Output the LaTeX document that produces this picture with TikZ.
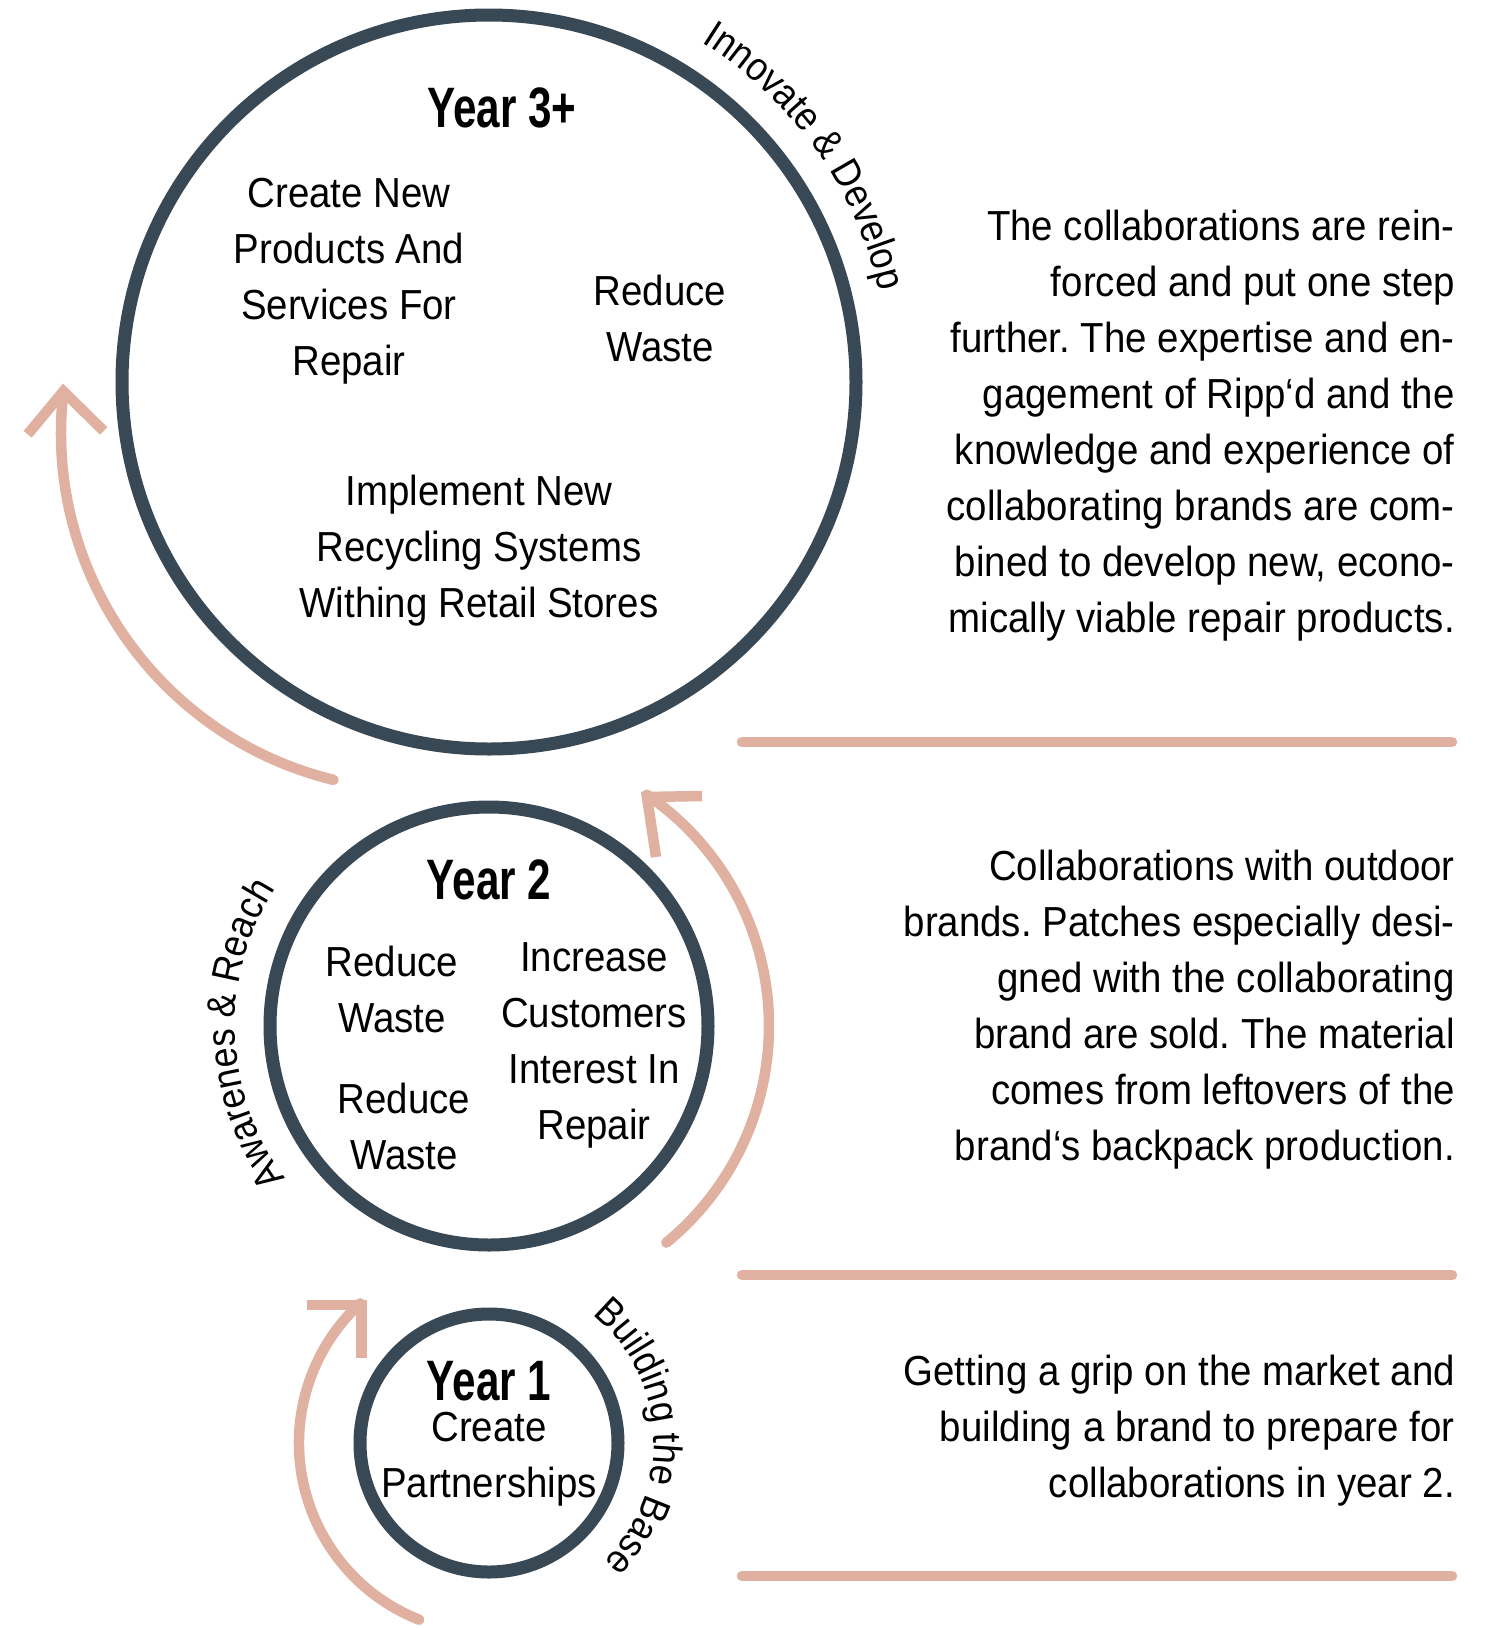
\documentclass[tikz,border=0pt]{standalone}
\usepackage{fontspec}
\setmainfont{Liberation Sans}
\newfontfamily\bodyfam[FakeStretch=0.915]{Liberation Sans}
\newfontfamily\yearfam[FakeStretch=0.74]{Liberation Sans}
\newfontfamily\labfam[FakeStretch=0.9]{Liberation Sans}
\newcommand\labfont{\labfam\fontsize{40}{44}\selectfont}
\usetikzlibrary{calc}
\definecolor{ringcol}{HTML}{384855}
\definecolor{pinkcol}{HTML}{E0B0A0}
% #1 centre coordinate, #2 radius, #3 centre angle, #4 name, #5 list char/advance (1/1000 em)
\newcommand\arclabel[5]{%
  \gdef\arcSum{0}%
  \foreach \ch/\cw in {#5}{\pgfmathsetmacro\arcTmp{\arcSum+\cw}\xdef\arcSum{\arcTmp}}%
  \pgfmathsetmacro\arcStart{#3 - 0.5*(\arcSum*0.036/#2)*57.29578}%
  \xdef\arcStartG{\arcStart}%
  \gdef\arcPos{0}%
  \foreach \ch/\cw [count=\ci] in {#5}{%
    \pgfmathsetmacro\arcAng{\arcStartG + ((\arcPos + 0.5*\cw)*0.036/#2)*57.29578}%
    \pgfmathsetmacro\arcRot{-\arcAng-90}%
    \node[inner sep=0pt, anchor=base, rotate=\arcRot, font=\labfont] (#4-\ci) at ($(#1)+(\arcAng:#2)$) {\ch};
    \pgfmathsetmacro\arcTmp{\arcPos+\cw}\xdef\arcPos{\arcTmp}%
  }%
}
\begin{document}
\frenchspacing
\begin{tikzpicture}[x=1pt,y=-1pt,
  ring/.style={circle, draw=ringcol, line width=13pt, inner sep=0pt, minimum size=#1},
  bodytext/.style={font=\bodyfam\fontsize{42}{56}\selectfont, inner sep=0pt, align=center},
  desctext/.style={font=\bodyfam\fontsize{42}{56}\selectfont, inner sep=0pt, align=right, anchor=east},
  yeartext/.style={font=\yearfam\bfseries\fontsize{57}{60}\selectfont, inner sep=0pt},
  pinkarc/.style={draw=pinkcol, line width=10.5pt, line cap=round},
  pinkhead/.style={draw=pinkcol, line width=10.5pt, line cap=butt, line join=miter},
  divider/.style={draw=pinkcol, line width=10.5pt, line cap=round}
]
\useasboundingbox (0,0) rectangle (1487,1628);
\fill[white] (0,0) rectangle (1487,1628);

% rings
\node[ring=734pt] (y3) at (489,382) {};
\node[ring=438pt] (y2) at (489,1026) {};
\node[ring=258pt] (y1) at (489,1443) {};

% titles
\node[yeartext] (t3) at (502,108) {Year 3+};
\node[yeartext] (t2) at (489,880) {Year 2};
\node[yeartext] (t1) at (489,1381) {Year 1};

% circle contents
\node[bodytext] (c3a) at (349,281) {Create New\\Products And\\Services For\\Repair};
\node[bodytext] (c3b) at (660,318) {Reduce\\Waste};
\node[bodytext] (c3c) at (479,551) {Implement New\\Recycling Systems\\Withing Retail Stores};
\node[bodytext] (c2a) at (392,989) {Reduce\\Waste};
\node[bodytext] (c2b) at (404,1126) {Reduce\\Waste};
\node[bodytext] (c2c) at (594,1045) {Increase\\Customers\\Interest In\\Repair};
\node[bodytext] (c1) at (489,1459) {Create\\Partnerships};

% descriptions
\node[desctext] (d3) at (1455,426) {The collaborations are rein-\\forced and put one step\\further. The expertise and en-\\gagement of Ripp‘d and the\\knowledge and experience of\\collaborating brands are com-\\bined to develop new, econo-\\mically viable repair products.};
\node[desctext] (d2) at (1455,1010) {Collaborations with outdoor\\brands. Patches especially desi-\\gned with the collaborating\\brand are sold. The material\\comes from leftovers of the\\brand‘s backpack production.};
\node[desctext] (d1) at (1455,1431) {Getting a grip on the market and\\building a brand to prepare for\\collaborations in year 2.};

% dividers
\coordinate (l1a) at (742,742);  \coordinate (l1b) at (1452,742);
\coordinate (l2a) at (742,1275); \coordinate (l2b) at (1452,1275);
\coordinate (l3a) at (742,1576); \coordinate (l3b) at (1452,1576);
\draw[divider] (l1a) -- (l1b);
\draw[divider] (l2a) -- (l2b);
\draw[divider] (l3a) -- (l3b);

% pink arrows
\coordinate (a1c) at (418,433);
\coordinate (a1s) at ($(a1c)+(103.7:357)$);
\draw[pinkarc] (a1s) arc[start angle=103.7, end angle=186.7, radius=357];
\coordinate (h1t) at (63.4,391.3); \coordinate (h1a) at (27.7,434.3); \coordinate (h1b) at (103.7,431);
\draw[pinkhead] (h1a) -- (h1t) -- (h1b);

\coordinate (a2s) at ($(y2.center)+(50.7:280)$);
\draw[pinkarc] (a2s) arc[start angle=50.7, end angle=-55.7, radius=280];
\coordinate (h2t) at (647,797); \coordinate (h2a) at (702,796); \coordinate (h2b) at (656,857);
\draw[pinkhead] (h2a) -- (h2t) -- (h2b);

\coordinate (a3s) at ($(y1.center)+(111.6:190)$);
\draw[pinkarc] (a3s) arc[start angle=111.6, end angle=227.3, radius=190];
\coordinate (h3t) at (361.5,1305); \coordinate (h3a) at (307,1305); \coordinate (h3b) at (361.5,1358);
\draw[pinkhead] (h3a) -- (h3t) -- (h3b);

% curved labels
\arclabel{y3.center}{401}{-35.5}{lab3}{I/278,n/556,n/556,o/556,v/500,a/556,t/278,e/556,~/278,\&/667,~/278,D/722,e/556,v/500,e/556,l/222,o/556,p/556}
\arclabel{y2.center}{254}{178}{lab2}{A/667,w/722,a/556,r/333,e/556,n/556,e/556,s/500,~/278,\&/667,~/278,R/722,e/556,a/556,c/500,h/556}
\arclabel{y1.center}{165}{-2.5}{lab1}{B/667,u/556,i/222,l/222,d/556,i/222,n/556,g/556,~/278,t/278,h/556,e/556,~/278,B/667,a/556,s/500,e/556}
\end{tikzpicture}
\end{document}
